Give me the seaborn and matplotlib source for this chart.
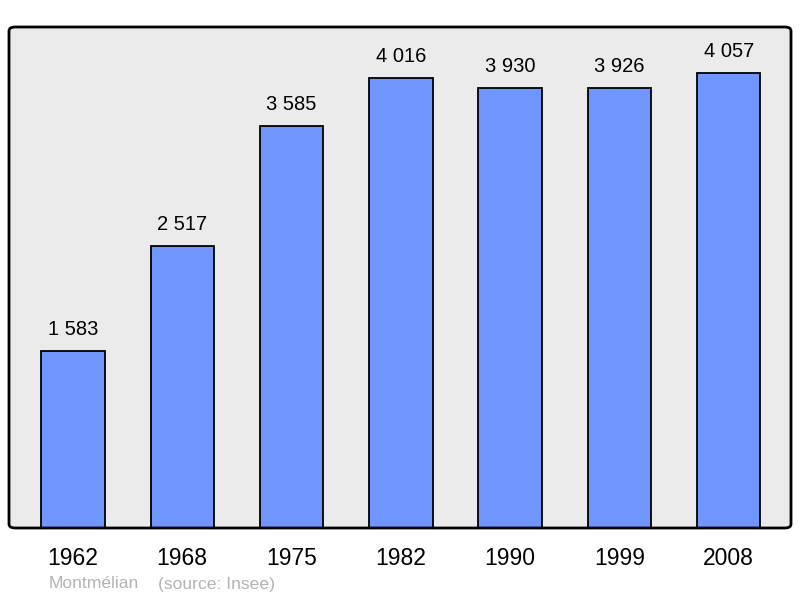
import matplotlib
matplotlib.use("Agg")
import matplotlib.pyplot as plt
import seaborn as sns
import pandas as pd
from matplotlib.patches import FancyBboxPatch

# Population data (Montmélian)
years = ["1962", "1968", "1975", "1982", "1990", "1999", "2008"]
population = [1583, 2517, 3585, 4016, 3930, 3926, 4057]
value_labels = ["1 583", "2 517", "3 585", "4 016", "3 930", "3 926", "4 057"]

df = pd.DataFrame({"year": years, "population": population})

sns.set_style("white")
plt.rcParams["font.family"] = ["Liberation Sans", "DejaVu Sans"]

fig = plt.figure(figsize=(8, 5.98), dpi=100)
ax = fig.add_axes([9 / 800, 70 / 598, 782 / 800, 501 / 598])
ax.set_facecolor("#ebebeb")

sns.barplot(data=df, x="year", y="population", color="#6f96ff", saturation=1,
            width=0.58, edgecolor="black", linewidth=1.3, ax=ax)

for i, (v, lab) in enumerate(zip(population, value_labels)):
    ax.annotate(lab, (i, v), xytext=(0, 8.5), textcoords="offset points",
                ha="center", va="bottom", fontsize=14.5, color="black")

ax.set_xlim(-0.585, 6.57)
ax.set_ylim(0, 4470)
ax.set_yticks([])
ax.set_xlabel("")
ax.set_ylabel("")
ax.tick_params(axis="x", length=0, pad=14, labelsize=16.5, labelcolor="black")
for s in ax.spines.values():
    s.set_visible(False)

# rounded frame
frame = FancyBboxPatch((0, 0), 1, 1, boxstyle="round,pad=0,rounding_size=0.008",
                       transform=ax.transAxes, fill=False, edgecolor="black",
                       linewidth=2, clip_on=False, zorder=5)
ax.add_patch(frame)

fig.text(49 / 800, 1 - 584 / 598, "Montmélian", color="#b3b3b3", fontsize=12.6,
         va="center", ha="left")
fig.text(158 / 800, 1 - 584 / 598, "(source: Insee)", color="#b3b3b3", fontsize=12.6,
         va="center", ha="left")

fig.savefig("out.png", dpi=100, facecolor="white")
